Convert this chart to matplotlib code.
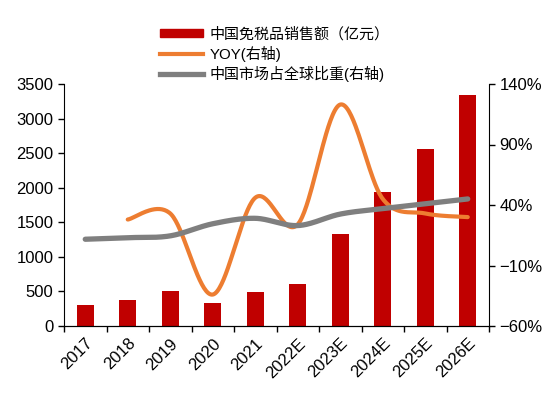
import numpy as np
import matplotlib
matplotlib.use('Agg')
import matplotlib.pyplot as plt
from matplotlib.patches import Patch
from matplotlib.lines import Line2D
from matplotlib.ticker import FuncFormatter, FixedLocator

plt.rcParams['font.family'] = ['Liberation Sans', 'Noto Sans CJK SC', 'DejaVu Sans']

years = ['2017', '2018', '2019', '2020', '2021', '2022E', '2023E', '2024E', '2025E', '2026E']
sales = [302, 383, 509, 334, 485, 601, 1333, 1935, 2565, 3335]   # 亿元
yoy = [28, 33, -34, 46, 24, 123, 45, 33, 30]                     # %, from 2018
share = [11.7, 13, 14.5, 24.5, 29, 23, 32.5, 37, 41, 45]          # %


def smooth(x, y, n=40):
    # Catmull-Rom curve, close to Excel's "smoothed line"
    x = np.asarray(x, float)
    y = np.asarray(y, float)
    px = np.concatenate([[x[0]], x, [x[-1]]])
    py = np.concatenate([[y[0]], y, [y[-1]]])
    xs, ys = [], []
    t = np.linspace(0, 1, n)
    for i in range(1, len(px) - 2):
        p0, p1, p2, p3 = [np.array([px[j], py[j]]) for j in (i - 1, i, i + 1, i + 2)]
        c1 = p1 + (p2 - p0) / 6
        c2 = p2 - (p3 - p1) / 6
        b = ((1 - t) ** 3)[:, None] * p1 + (3 * (1 - t) ** 2 * t)[:, None] * c1 \
            + (3 * (1 - t) * t ** 2)[:, None] * c2 + (t ** 3)[:, None] * p2
        xs.extend(b[:, 0])
        ys.extend(b[:, 1])
    return np.array(xs), np.array(ys)


fig = plt.figure(figsize=(5.54, 4.01), dpi=100)
ax = fig.add_axes([64 / 554, 75 / 401, 425 / 554, 242 / 401])
ax2 = ax.twinx()

x = np.arange(len(years))
ax.bar(x, sales, width=0.39, color='#C00000', zorder=2)

sx, sy = smooth(x[1:], yoy)
ax2.plot(sx, sy, color='#ED7D31', lw=3, solid_capstyle='round')
gx, gy = smooth(x, share)
ax2.plot(gx, gy, color='#7F7F7F', lw=3.8, solid_capstyle='round')

ax.set_xlim(-0.5, len(years) - 0.5)
ax.set_ylim(0, 3500)
ax.set_yticks(range(0, 3501, 500))
ax2.set_ylim(-60, 140)
ax2.set_yticks([-60, -10, 40, 90, 140])
ax2.yaxis.set_major_formatter(FuncFormatter(lambda v, p: f'{v:.0f}%'.replace('-', '\u2212')))

ax.set_xticks(x)
ax.set_xticklabels(years, rotation=45, ha='right', rotation_mode='anchor')
ax.tick_params(axis='x', which='major', length=0, pad=7, labelsize=12)
ax.xaxis.set_minor_locator(FixedLocator(np.arange(-0.5, len(years), 1)))
ax.tick_params(axis='x', which='minor', length=4, direction='out', width=1)
ax.tick_params(axis='y', length=4, width=1, labelsize=12)
ax2.tick_params(axis='y', length=4, width=1, labelsize=12)

for a in (ax, ax2):
    a.spines['top'].set_visible(False)
ax2.spines['left'].set_visible(False)
ax.spines['right'].set_visible(False)

handles = [
    Patch(color='#C00000'),
    Line2D([], [], color='#ED7D31', lw=3),
    Line2D([], [], color='#7F7F7F', lw=3.8),
]
labels = ['中国免税品销售额（亿元）', 'YOY(右轴)', '中国市场占全球比重(右轴)']
fig.legend(handles, labels, loc='upper left', bbox_to_anchor=(160 / 554, 1 - 27 / 401),
           frameon=False, fontsize=10.8, handlelength=2.85, handleheight=0.45,
           handletextpad=0.45, labelspacing=0.28, borderpad=0, borderaxespad=0)

fig.savefig('out.png', dpi=100)
